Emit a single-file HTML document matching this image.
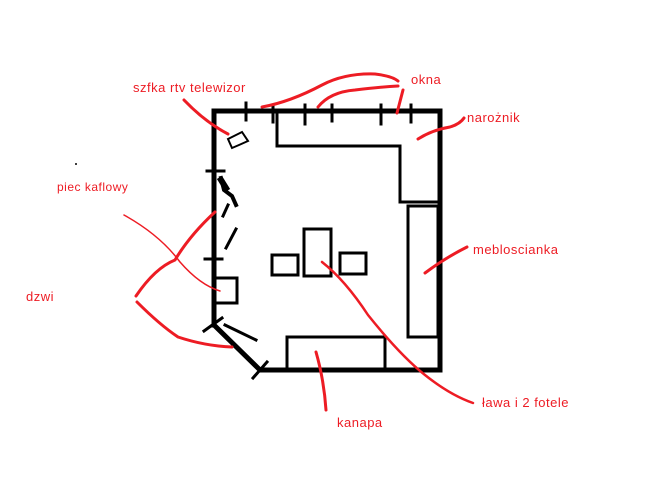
<!DOCTYPE html>
<html><head><meta charset="utf-8"><style>
html,body{margin:0;padding:0;background:#fff;width:648px;height:486px;overflow:hidden}
svg{display:block}
text{font-family:"Liberation Sans",sans-serif;font-size:13px;fill:#ed1c24;letter-spacing:0.5px}
</style></head><body>
<svg width="648" height="486" viewBox="0 0 648 486" xmlns="http://www.w3.org/2000/svg">
<g stroke="#000" fill="none" stroke-linecap="square">
<path d="M214,325 L214,111 L440,111 L440,370 L260,370 L214,325" stroke-width="5"/>
<g stroke-width="3">
<line x1="246" y1="103" x2="246" y2="120"/>
<line x1="273" y1="105" x2="273" y2="122"/>
<line x1="305" y1="105" x2="305" y2="124"/>
<line x1="332" y1="105" x2="332" y2="121"/>
<line x1="381" y1="105" x2="381" y2="124"/>
<line x1="411" y1="105" x2="411" y2="122"/>
<line x1="207" y1="171" x2="224" y2="171"/>
<line x1="205" y1="259" x2="222" y2="259"/>
<line x1="204" y1="331" x2="222" y2="318"/>
<line x1="253" y1="378" x2="267" y2="362"/>
<line x1="225" y1="325" x2="256" y2="340"/>
</g>
<path d="M277,111 L277,146 L400,146 L400,202 L440,202" stroke-width="3"/>
<rect x="408" y="206" width="30" height="131" stroke-width="3"/>
<rect x="287" y="337" width="98" height="33" stroke-width="3"/>
<rect x="304" y="229" width="27" height="47" stroke-width="3"/>
<rect x="272" y="255" width="26" height="20" stroke-width="3"/>
<rect x="340" y="253" width="26" height="21" stroke-width="3"/>
<rect x="215" y="278" width="22" height="25" stroke-width="3"/>
<path d="M228,139 L242,132 L248,141 L239,145 L232,148 Z" stroke-width="2"/>
<path d="M221,178 L224,190 L232,196 L236,205" stroke-width="4"/>
<path d="M221,180 L226,188" stroke-width="6"/>
<line x1="228" y1="205" x2="223" y2="216" stroke-width="3"/>
<line x1="236" y1="229" x2="226" y2="248" stroke-width="3"/>
</g>
<g stroke="#ed1c24" fill="none" stroke-linecap="round" stroke-linejoin="round">
<path d="M184,100 Q205,122 228,134" stroke-width="3"/>
<path d="M262,107 Q290,102 322,85 Q345,73 375,74 Q392,76 398,81" stroke-width="3"/>
<path d="M318,107 Q330,92 355,90 Q380,87 398,86" stroke-width="3"/>
<path d="M403,90 L397,113" stroke-width="3"/>
<path d="M418,139 Q432,130 450,127 Q460,124 464,118" stroke-width="3"/>
<path d="M425,273 Q445,258 467,247" stroke-width="3"/>
<path d="M215,212 Q190,235 175,260 Q155,268 136,296" stroke-width="3"/>
<path d="M137,302 Q160,325 178,337 Q205,346 232,347" stroke-width="3"/>
<path d="M124,215 Q160,235 180,262 Q200,285 220,291" stroke-width="1.5"/>
<path d="M322,262 Q345,280 368,315 Q400,355 425,375 Q450,395 473,403" stroke-width="2.5"/>
<path d="M316,352 Q324,380 326,410" stroke-width="3"/>
</g>
<circle cx="76" cy="164" r="1" fill="#000"/>
<text x="133" y="92">szfka rtv telewizor</text>
<text x="411" y="84">okna</text>
<text x="467" y="122">narożnik</text>
<text x="57" y="191" style="font-size:12px">piec kaflowy</text>
<text x="473" y="254">mebloscianka</text>
<text x="26" y="301">dzwi</text>
<text x="482" y="407">ława i 2 fotele</text>
<text x="337" y="427">kanapa</text>
</svg>
</body></html>
